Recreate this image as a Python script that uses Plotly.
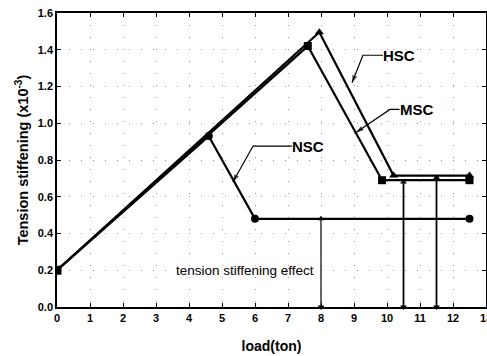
import plotly.graph_objects as go

# data
x_nsc = [0, 4.6, 6.0, 12.5]
y_nsc = [0.2, 0.93, 0.48, 0.48]
x_msc = [0, 7.6, 9.85, 12.5]
y_msc = [0.2, 1.42, 0.69, 0.69]
x_hsc = [0, 7.95, 10.2, 12.5]
y_hsc = [0.2, 1.495, 0.715, 0.715]

x_ticks = list(range(0, 14))
y_ticks = [0.0, 0.2, 0.4, 0.6, 0.8, 1.0, 1.2, 1.4, 1.6]

# series labels: text position, bend point, arrow tip
labels = [
    ("HSC", (9.88, 1.37), (9.27, 1.37), (8.94, 1.22)),
    ("MSC", (10.38, 1.075), (10.09, 1.075), (9.06, 0.95)),
    ("NSC", (7.12, 0.876), (5.94, 0.876), (5.33, 0.68)),
]
# vertical double arrows: x, y bottom, y top
effect_arrows = [(8.0, 0.0, 0.48), (10.5, 0.0, 0.68), (11.5, 0.0, 0.705)]

fig = go.Figure()
series = [
    ("NSC", x_nsc, y_nsc, "circle"),
    ("MSC", x_msc, y_msc, "square"),
    ("HSC", x_hsc, y_hsc, "triangle-up"),
]
for name, xs, ys, sym in series:
    fig.add_trace(go.Scatter(x=xs, y=ys, mode="lines", line=dict(color="black", width=2.2),
                             showlegend=False, hoverinfo="skip"))
    fig.add_trace(go.Scatter(x=xs[1:], y=ys[1:], mode="markers",
                             marker=dict(symbol=sym, size=8, color="black"),
                             showlegend=False, hoverinfo="skip"))
fig.add_trace(go.Scatter(x=[x_nsc[0]], y=[y_nsc[0]], mode="markers",
                         marker=dict(symbol="square", size=9, color="black"),
                         showlegend=False, hoverinfo="skip"))

annotations = []
for text, (tx, ty), (bx, by), (hx, hy) in labels:
    fig.add_trace(go.Scatter(x=[tx, bx, hx], y=[ty, by, hy], mode="lines+markers",
                             line=dict(color="black", width=1.2),
                             marker=dict(symbol="arrow", angleref="previous", size=[0, 0, 8],
                                         color="black", line=dict(width=0)),
                             showlegend=False, hoverinfo="skip", cliponaxis=False))
    annotations.append(dict(x=tx, y=ty, xref="x", yref="y", text="<b>%s</b>" % text,
                            showarrow=False, xanchor="left", yanchor="middle", xshift=-2,
                            font=dict(family="Arial, Liberation Sans", size=15, color="black")))

for xa, y0, y1 in effect_arrows:
    w = 1.2 if xa == 8.0 else 1.8
    fig.add_trace(go.Scatter(x=[xa, xa], y=[y0, y1], mode="lines+markers",
                             line=dict(color="black", width=w),
                             marker=dict(symbol=["triangle-down", "triangle-up"], size=6,
                                         color="black", line=dict(width=0)),
                             showlegend=False, hoverinfo="skip", cliponaxis=False))

annotations.append(dict(x=7.85, y=0.2, xref="x", yref="y", text="tension stiffening effect",
                        showarrow=False, xanchor="right", yanchor="middle",
                        font=dict(family="Arial, Liberation Sans", size=13.5, color="black")))

axis_common = dict(showline=True, linecolor="black", linewidth=1.5, mirror="ticks",
                   ticks="inside", ticklen=4, tickcolor="black",
                   showgrid=True, gridcolor="#9a9a9a", griddash="1px,11px", gridwidth=1,
                   zeroline=False, ticklabeloverflow="allow", automargin=False,
                   tickfont=dict(family="Arial, Liberation Sans", size=11, color="black"))

fig.update_layout(
    width=487, height=356,
    margin=dict(l=57, r=1, t=13, b=49),
    paper_bgcolor="white", plot_bgcolor="white",
    xaxis=dict(range=[0, 13], tickvals=x_ticks, ticktext=["<b>%d</b>" % v for v in x_ticks],
               title=dict(text="<b>load(ton)</b>", standoff=18,
                          font=dict(family="Arial, Liberation Sans", size=14, color="black")),
               **axis_common),
    yaxis=dict(range=[0, 1.6], tickvals=y_ticks, ticktext=["<b>%.1f</b>" % v for v in y_ticks],
               title=dict(text="<b>Tension stiffening (x10<sup>-3</sup>)</b>", standoff=6,
                          font=dict(family="Arial, Liberation Sans", size=14.5, color="black")),
               **axis_common),
    annotations=annotations,
)

fig.write_html("out.html")
